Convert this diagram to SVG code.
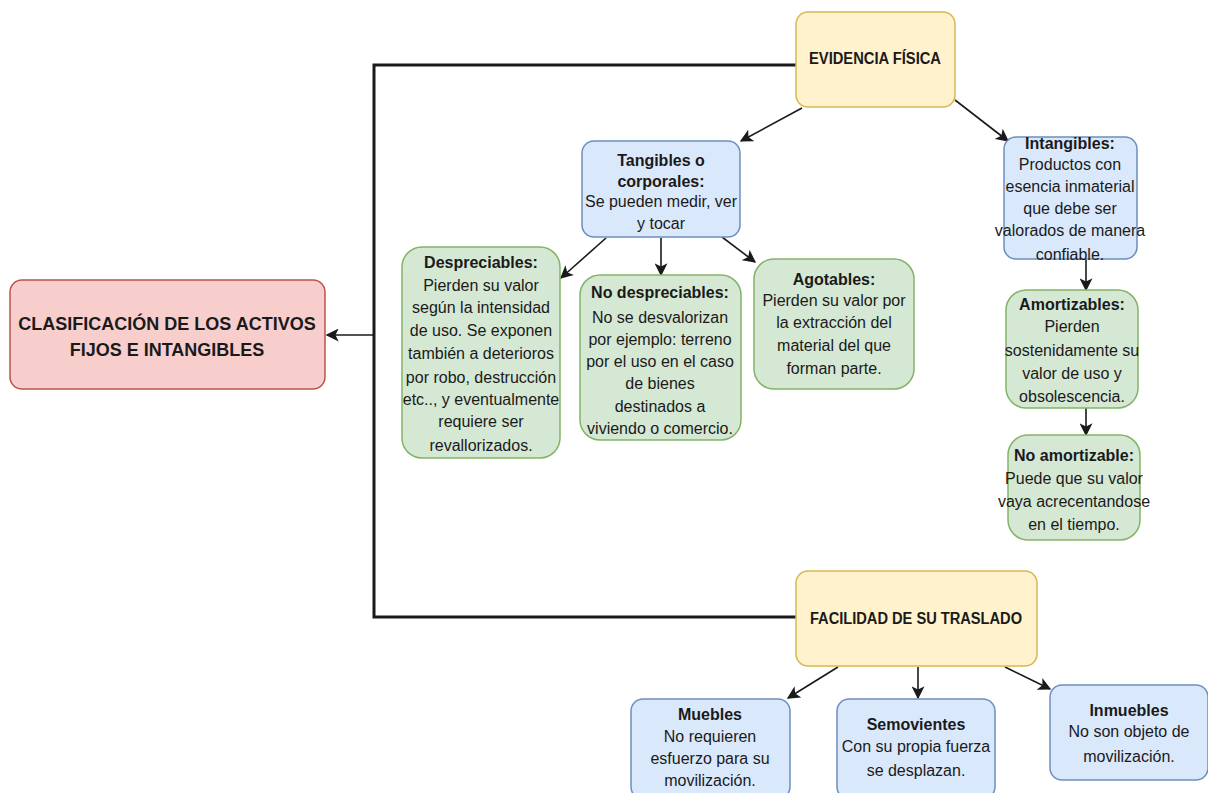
<svg xmlns="http://www.w3.org/2000/svg" width="1208" height="793" viewBox="0 0 1208 793">
  <style>
    text { font-family: "Liberation Sans", Arial, sans-serif; font-size: 16px; fill: #1a1a1a; text-anchor: middle; }
    .b { font-weight: bold; }
    .title { font-size: 18px; }
    .root rect { fill: #f8cecc; stroke: #b85450; stroke-width: 1.5; }
    .cat rect { fill: #fff2cc; stroke: #d6b656; stroke-width: 1.5; }
    .blue rect { fill: #dae8fc; stroke: #6c8ebf; stroke-width: 1.5; }
    .green rect { fill: #d5e8d4; stroke: #82b366; stroke-width: 1.5; }
    .link { fill: none; stroke: #1a1a1a; stroke-width: 1.6; marker-end: url(#arrow); }
    .trunk { fill: none; stroke: #1a1a1a; stroke-width: 3; }
  </style>
  <defs>
    <marker id="arrow" viewBox="0 0 10 10" refX="9" refY="5" markerWidth="13" markerHeight="13" markerUnits="userSpaceOnUse" orient="auto">
      <path d="M0,0 L10,5 L0,10 L2.5,5 Z" fill="#1a1a1a"/>
    </marker>
  </defs>

  <rect width="1208" height="793" fill="#ffffff"/>

  <!-- connectors: thick trunk joining the two criteria, thin arrows down to each class -->
  <g id="connectors">
    <polyline class="trunk" points="796,65 374,65 374,617 796,617"/>
    <line class="link" x1="374" y1="335" x2="327" y2="335"/>
    <line class="link" x1="802" y1="108" x2="741" y2="141"/>
    <line class="link" x1="955" y1="100" x2="1008" y2="141"/>
    <line class="link" x1="606" y1="238" x2="561" y2="278"/>
    <line class="link" x1="661" y1="238" x2="661" y2="275"/>
    <line class="link" x1="722" y1="237" x2="755" y2="262"/>
    <line class="link" x1="1086" y1="259" x2="1086" y2="290"/>
    <line class="link" x1="1086" y1="408" x2="1086" y2="435"/>
    <line class="link" x1="838" y1="667" x2="788" y2="698"/>
    <line class="link" x1="918" y1="667" x2="918" y2="698"/>
    <line class="link" x1="1005" y1="667" x2="1050" y2="689"/>
  </g>

  <g id="clasificacion" class="root">
    <rect x="10" y="280" width="315" height="109" rx="12"/>
    <text class="b title" x="167" y="330">CLASIFICACIÓN DE LOS ACTIVOS</text>
    <text class="b title" x="167" y="356">FIJOS E INTANGIBLES</text>
  </g>

  <g id="evidencia" class="cat">
    <rect x="796" y="12" width="159" height="95" rx="12"/>
    <text class="b" x="875" y="64" textLength="132" lengthAdjust="spacingAndGlyphs">EVIDENCIA FÍSICA</text>
  </g>

  <g id="tangibles" class="blue">
    <rect x="582" y="141" width="158" height="96" rx="12"/>
    <text class="b" x="661" y="166">Tangibles o</text>
    <text class="b" x="661" y="187">corporales:</text>
    <text x="661" y="207">Se pueden medir, ver</text>
    <text x="661" y="229">y tocar</text>
  </g>

  <g id="intangibles" class="blue">
    <rect x="1004" y="137" width="133" height="122" rx="12"/>
    <text class="b" x="1070" y="149">Intangibles:</text>
    <text x="1070" y="170">Productos con</text>
    <text x="1070" y="192">esencia inmaterial</text>
    <text x="1070" y="214">que debe ser</text>
    <text x="1070" y="236">valorados de manera</text>
    <text x="1070" y="260">confiable.</text>
  </g>

  <g id="amortizables" class="green">
    <rect x="1006" y="290" width="132" height="118" rx="20"/>
    <text class="b" x="1072" y="310">Amortizables:</text>
    <text x="1072" y="332">Pierden</text>
    <text x="1072" y="356">sostenidamente su</text>
    <text x="1072" y="379">valor de uso y</text>
    <text x="1072" y="402">obsolescencia.</text>
  </g>

  <g id="no-amortizable" class="green">
    <rect x="1008" y="435" width="132" height="105" rx="20"/>
    <text class="b" x="1074" y="461">No amortizable:</text>
    <text x="1074" y="484">Puede que su valor</text>
    <text x="1074" y="507">vaya acrecentandose</text>
    <text x="1074" y="530">en el tiempo.</text>
  </g>

  <g id="despreciables" class="green">
    <rect x="402" y="247" width="158" height="211" rx="20"/>
    <text class="b" x="481" y="268">Despreciables:</text>
    <text x="481" y="291">Pierden su valor</text>
    <text x="481" y="313">según la intensidad</text>
    <text x="481" y="336">de uso. Se exponen</text>
    <text x="481" y="359">también a deterioros</text>
    <text x="481" y="383">por robo, destrucción</text>
    <text x="481" y="405">etc.., y eventualmente</text>
    <text x="481" y="427">requiere ser</text>
    <text x="481" y="451">revallorizados.</text>
  </g>

  <g id="no-despreciables" class="green">
    <rect x="580" y="275" width="161" height="165" rx="20"/>
    <text class="b" x="660" y="298">No despreciables:</text>
    <text x="660" y="323">No se desvalorizan</text>
    <text x="660" y="345">por ejemplo: terreno</text>
    <text x="660" y="367">por el uso en el caso</text>
    <text x="660" y="389">de bienes</text>
    <text x="660" y="412">destinados a</text>
    <text x="660" y="434">viviendo o comercio.</text>
  </g>

  <g id="agotables" class="green">
    <rect x="754" y="259" width="160" height="130" rx="20"/>
    <text class="b" x="834" y="285">Agotables:</text>
    <text x="834" y="306">Pierden su valor por</text>
    <text x="834" y="328">la extracción del</text>
    <text x="834" y="351">material del que</text>
    <text x="834" y="374">forman parte.</text>
  </g>

  <g id="facilidad" class="cat">
    <rect x="796" y="571" width="241" height="95" rx="12"/>
    <text class="b" x="916" y="624" textLength="212" lengthAdjust="spacingAndGlyphs">FACILIDAD DE SU TRASLADO</text>
  </g>

  <g id="muebles" class="blue">
    <rect x="631" y="699" width="159" height="100" rx="12"/>
    <text class="b" x="710" y="720">Muebles</text>
    <text x="710" y="742">No requieren</text>
    <text x="710" y="764">esfuerzo para su</text>
    <text x="710" y="786">movilización.</text>
  </g>

  <g id="semovientes" class="blue">
    <rect x="837" y="699" width="158" height="100" rx="12"/>
    <text class="b" x="916" y="730">Semovientes</text>
    <text x="916" y="752">Con su propia fuerza</text>
    <text x="916" y="776">se desplazan.</text>
  </g>

  <g id="inmuebles" class="blue">
    <rect x="1050" y="685" width="158" height="95" rx="12"/>
    <text class="b" x="1129" y="716">Inmuebles</text>
    <text x="1129" y="737">No son objeto de</text>
    <text x="1129" y="762">movilización.</text>
  </g>
</svg>
